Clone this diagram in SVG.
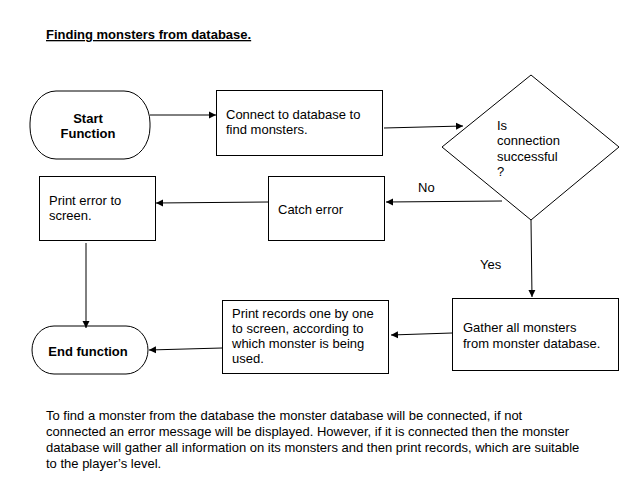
<svg xmlns="http://www.w3.org/2000/svg" width="622" height="486" viewBox="0 0 622 486">
<defs>
<marker id="ah" markerWidth="8" markerHeight="8" refX="7" refY="4" orient="auto" markerUnits="userSpaceOnUse">
<path d="M0,0.5 L7,4 L0,7.5 Z" fill="#000"/>
</marker>
<style>
.shape{fill:#fff;stroke:#000;stroke-width:1}
.t{font-family:"Liberation Sans",Arial,sans-serif;font-size:13px;fill:#000}
.b{font-weight:bold}
.conn line{stroke:#000;stroke-width:1;marker-end:url(#ah)}
</style>
</defs>
<rect width="622" height="486" fill="#fff"/>
<text class="t b" x="46" y="39" font-size="13.4" text-decoration="underline">Finding monsters from database.</text>

<g id="start">
<rect class="shape" x="30" y="91" width="120" height="68" rx="26" ry="32"/>
<text class="t b" x="88" y="123" text-anchor="middle">Start</text>
<text class="t b" x="88" y="138" text-anchor="middle">Function</text>
</g>
<g id="connect">
<rect class="shape" x="216.5" y="90.5" width="166" height="65"/>
<text class="t" x="226" y="119">Connect to database to</text>
<text class="t" x="226" y="134">find monsters.</text>
</g>
<g id="decision">
<polygon class="shape" points="531,75 619,147 531,220 442,147"/>
<text class="t" x="497" y="130">Is</text>
<text class="t" x="497" y="145">connection</text>
<text class="t" x="497" y="161">successful</text>
<text class="t" x="497" y="176">?</text>
</g>
<g id="catch">
<rect class="shape" x="268.5" y="176.5" width="116" height="64"/>
<text class="t" x="278" y="214">Catch error</text>
</g>
<g id="printerror">
<rect class="shape" x="39.5" y="176.5" width="116" height="64"/>
<text class="t" x="49" y="205">Print error to</text>
<text class="t" x="49" y="220">screen.</text>
</g>
<g id="end">
<rect class="shape" x="32" y="326" width="116" height="48" rx="22" ry="24"/>
<text class="t b" x="88" y="356" text-anchor="middle">End function</text>
</g>
<g id="printrecords">
<rect class="shape" x="222.5" y="300.5" width="166" height="73"/>
<text class="t" x="232" y="318">Print records one by one</text>
<text class="t" x="232" y="333">to screen, according to</text>
<text class="t" x="232" y="348">which monster is being</text>
<text class="t" x="232" y="363">used.</text>
</g>
<g id="gather">
<rect class="shape" x="452.5" y="298.5" width="166" height="72"/>
<text class="t" x="463" y="332">Gather all monsters</text>
<text class="t" x="463" y="348">from monster database.</text>
</g>

<g class="conn">
<line x1="150" y1="115" x2="216" y2="115"/>
<line x1="384" y1="128" x2="463" y2="126"/>
<line x1="502" y1="201" x2="386" y2="202"/>
<line x1="268" y1="202" x2="156" y2="203"/>
<line x1="86" y1="243" x2="86" y2="328"/>
<line x1="531" y1="220" x2="532" y2="297"/>
<line x1="452" y1="333" x2="391" y2="335"/>
<line x1="222" y1="348" x2="149" y2="350"/>
</g>
<text class="t" x="418" y="192">No</text>
<text class="t" x="480" y="269">Yes</text>

<text class="t" x="46" y="420">To find a monster from the database the monster database will be connected, if not</text>
<text class="t" x="46" y="436">connected an error message will be displayed. However, if it is connected then the monster</text>
<text class="t" x="46" y="452">database will gather all information on its monsters and then print records, which are suitable</text>
<text class="t" x="46" y="468">to the player’s level.</text>
</svg>
